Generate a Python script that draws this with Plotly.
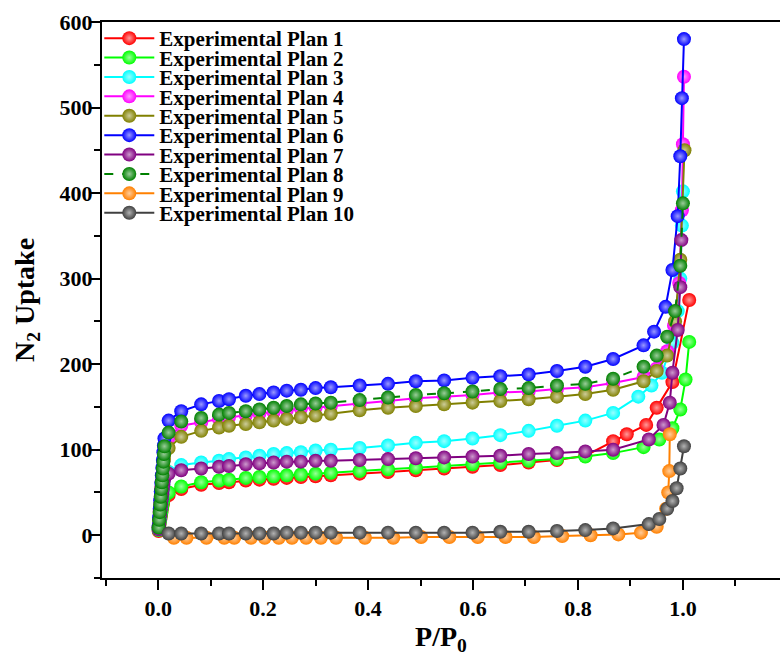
import plotly.graph_objects as go

# Relative pressure grid shared by the plateau part of every isotherm
PLATEAU_X = [0.02, 0.044, 0.082, 0.116, 0.135, 0.167, 0.193, 0.22, 0.245, 0.272, 0.3,
             0.329, 0.384, 0.438, 0.491, 0.545, 0.599, 0.652, 0.706, 0.76, 0.814, 0.867]
# Very low pressure points (the near-vertical rise at P/P0 ~ 0)
STACK_X = [0.001, 0.002, 0.003, 0.004, 0.005, 0.006, 0.007, 0.008, 0.009, 0.01, 0.011, 0.012]

LABELS = [f"Experimental Plan {i}" for i in range(1, 11)]
COLORS = ["#FF0000", "#00FF00", "#00FFFF", "#FF00FF", "#808000",
          "#0000FF", "#800080", "#008000", "#FF8000", "#404040"]

# Plan 1
p1_stack = [5, 9, 14, 18, 22, 26, 30, 34, 37, 40, 43, 45]
p1_plateau = [47, 54, 59, 61, 62, 64, 65, 66, 67, 68, 69, 70, 72, 74, 76, 78, 80, 82, 85, 88, 93, 110]
p1_tail_x = [0.893, 0.93, 0.95, 0.98, 1.012]
p1_tail_y = [118, 129, 149, 179, 275]

# Plan 2
p2_stack = [6, 10, 15, 19, 23, 27, 31, 35, 39, 42, 45, 48]
p2_plateau = [50, 57, 62, 64, 65, 67, 68, 69, 70, 71, 72, 73, 75, 77, 79, 81, 83, 85, 87, 89, 92, 96]
p2_tail_x = [0.925, 0.955, 0.98, 0.995, 1.005, 1.012]
p2_tail_y = [103, 112, 125, 147, 182, 226]

# Plan 3
p3_stack = [7, 13, 19, 25, 31, 37, 43, 49, 55, 60, 65, 70]
p3_plateau = [74, 82, 85, 87, 89, 91, 93, 95, 96, 97, 99, 100, 102, 105, 108, 110, 113, 117, 122, 128, 134, 143]
p3_tail_x = [0.915, 0.94, 0.96, 0.98, 0.99, 0.995, 0.998, 1.0]
p3_tail_y = [162, 175, 190, 225, 262, 300, 362, 402]

# Plan 4
p4_stack = [10, 19, 28, 37, 46, 55, 63, 71, 79, 87, 95, 103]
p4_plateau = [114, 128, 132, 136, 138, 140, 142, 144, 146, 148, 149, 151, 154, 157, 160, 162, 164, 167, 168, 171, 173, 178]
p4_tail_x = [0.925, 0.95, 0.97, 0.983, 0.993, 0.998, 1.0, 1.002]
p4_tail_y = [185, 195, 215, 245, 295, 380, 457, 536]

# Plan 5
p5_stack = [9, 17, 25, 33, 41, 49, 57, 65, 73, 81, 89, 96]
p5_plateau = [102, 115, 122, 126, 128, 130, 132, 134, 136, 138, 140, 142, 146, 149, 151, 153, 155, 157, 159, 162, 165, 170]
p5_tail_x = [0.925, 0.95, 0.97, 0.985, 0.995, 1.003]
p5_tail_y = [180, 192, 210, 250, 322, 450]

# Plan 6
p6_stack = [11, 21, 31, 41, 51, 61, 70, 79, 88, 97, 105, 113]
p6_plateau = [134, 145, 153, 157, 159, 163, 165, 167, 169, 170, 172, 173, 175, 177, 180, 181, 184, 186, 188, 192, 197, 206]
p6_tail_x = [0.925, 0.945, 0.967, 0.98, 0.99, 0.995, 0.998, 1.002]
p6_tail_y = [222, 238, 267, 310, 373, 443, 511, 580]

# Plan 7
p7_stack = [7, 12, 18, 24, 30, 36, 42, 48, 54, 59, 64, 68]
p7_plateau = [72, 76, 78, 80, 81, 83, 84, 85, 86, 86, 87, 87, 88, 89, 90, 91, 92, 93, 95, 96, 98, 100]
p7_tail_x = [0.935, 0.963, 0.975, 0.98, 0.99, 0.995, 0.997]
p7_tail_y = [112, 129, 155, 190, 240, 290, 345]

# Plan 8
p8_stack = [9, 18, 27, 36, 45, 54, 62, 70, 78, 86, 95, 104]
p8_plateau = [120, 133, 137, 141, 143, 145, 147, 149, 151, 153, 154, 155, 158, 161, 164, 166, 168, 171, 172, 175, 177, 183]
p8_tail_x = [0.925, 0.95, 0.97, 0.985, 0.995, 1.0]
p8_tail_y = [197, 210, 232, 262, 315, 388]

# Plan 9 (its own low-pressure grid)
p9_x = [0.03, 0.054, 0.092, 0.126, 0.145, 0.177, 0.203, 0.23, 0.255, 0.282, 0.31,
        0.339, 0.394, 0.448, 0.501, 0.555, 0.609, 0.662, 0.716, 0.77, 0.824, 0.877,
        0.92, 0.95, 0.968, 0.972, 0.974, 0.975]
p9_y = [-3, -3, -3, -3, -3, -3, -3, -3, -3, -3, -3,
        -3, -3, -3, -2, -2, -2, -2, -2, -1, 0, 1,
        3, 10, 31, 50, 75, 118]

# Plan 10
p10_plateau = [2, 2, 2, 2, 2, 2, 2, 2, 3, 3, 3, 3, 3, 3, 3, 3, 3, 4, 4, 5, 6, 8]
p10_tail_x = [0.935, 0.955, 0.97, 0.98, 0.988, 0.995, 1.002]
p10_tail_y = [13, 19, 31, 40, 55, 78, 104]

STACKS = [p1_stack, p2_stack, p3_stack, p4_stack, p5_stack, p6_stack, p7_stack, p8_stack]
PLATEAUS = [p1_plateau, p2_plateau, p3_plateau, p4_plateau, p5_plateau,
            p6_plateau, p7_plateau, p8_plateau]
TAILS_X = [p1_tail_x, p2_tail_x, p3_tail_x, p4_tail_x, p5_tail_x, p6_tail_x, p7_tail_x, p8_tail_x]
TAILS_Y = [p1_tail_y, p2_tail_y, p3_tail_y, p4_tail_y, p5_tail_y, p6_tail_y, p7_tail_y, p8_tail_y]

series_x = []
series_y = []
for s, p, tx, ty in zip(STACKS, PLATEAUS, TAILS_X, TAILS_Y):
    series_x.append(STACK_X + PLATEAU_X + tx)
    series_y.append(s + p + ty)
series_x.append(p9_x)
series_y.append(p9_y)
series_x.append(PLATEAU_X + p10_tail_x)
series_y.append(p10_plateau + p10_tail_y)


def tint(hex_color, f):
    h = hex_color.lstrip("#")
    r, g, b = (int(h[i:i + 2], 16) for i in (0, 2, 4))
    r, g, b = (int(c + (255 - c) * f) for c in (r, g, b))
    return f"rgb({r},{g},{b})"


FONT = "Liberation Serif"
fig = go.Figure()

ROW0 = 38.5      # pixel centre of first legend row
ROW_STEP = 19.4  # spacing between legend rows
PLOT_TOP, PLOT_H = 22, 556

for i in range(10):
    key = "legend" if i == 0 else f"legend{i + 1}"
    fig.add_trace(go.Scatter(
        x=series_x[i], y=series_y[i], mode="lines+markers", name=LABELS[i],
        line=dict(color=COLORS[i], width=2, dash="dash" if i == 7 else "solid"),
        marker=dict(size=14, color=COLORS[i],
                    gradient=dict(type="radial", color=tint(COLORS[i], 0.6)),
                    line=dict(width=0)),
        legend=key,
    ))
    pix = ROW0 + ROW_STEP * i
    fig.update_layout({key: dict(
        x=-0.004, y=1 - (pix - PLOT_TOP) / PLOT_H, xanchor="left", yanchor="middle",
        bgcolor="rgba(0,0,0,0)", borderwidth=0, itemwidth=50,
        font=dict(family=FONT, size=21, color="black", weight="bold"),
    )})

axis_common = dict(
    showline=True, linecolor="black", linewidth=2, showgrid=False, zeroline=False,
    ticks="outside", ticklen=10, tickwidth=2, tickcolor="black",
    tickfont=dict(family=FONT, size=22, color="black", weight="bold"),
)

fig.update_xaxes(
    range=[-0.107, 1.185], tick0=0, dtick=0.2, tickformat=".1f", mirror=True,
    minor=dict(dtick=0.1, ticks="outside", ticklen=6, tickwidth=2, tickcolor="black"),
    title=dict(text="P/P<sub>0</sub>", font=dict(family=FONT, size=28, color="black", weight="bold"),
               standoff=4),
    **axis_common,
)
fig.update_yaxes(
    range=[-50, 600], tick0=0, dtick=100, ticklabelstandoff=-7,
    minor=dict(dtick=50, ticks="outside", ticklen=6, tickwidth=2, tickcolor="black"),
    title=dict(text="N<sub>2</sub> Uptake", font=dict(family=FONT, size=28, color="black", weight="bold"),
               standoff=17),
    **axis_common,
)

fig.update_layout(
    width=780, height=668,
    margin=dict(l=102, r=0, t=22, b=90),
    plot_bgcolor="white", paper_bgcolor="white",
    font=dict(family=FONT, color="black"),
    showlegend=True,
)

fig.write_html("out.html")
